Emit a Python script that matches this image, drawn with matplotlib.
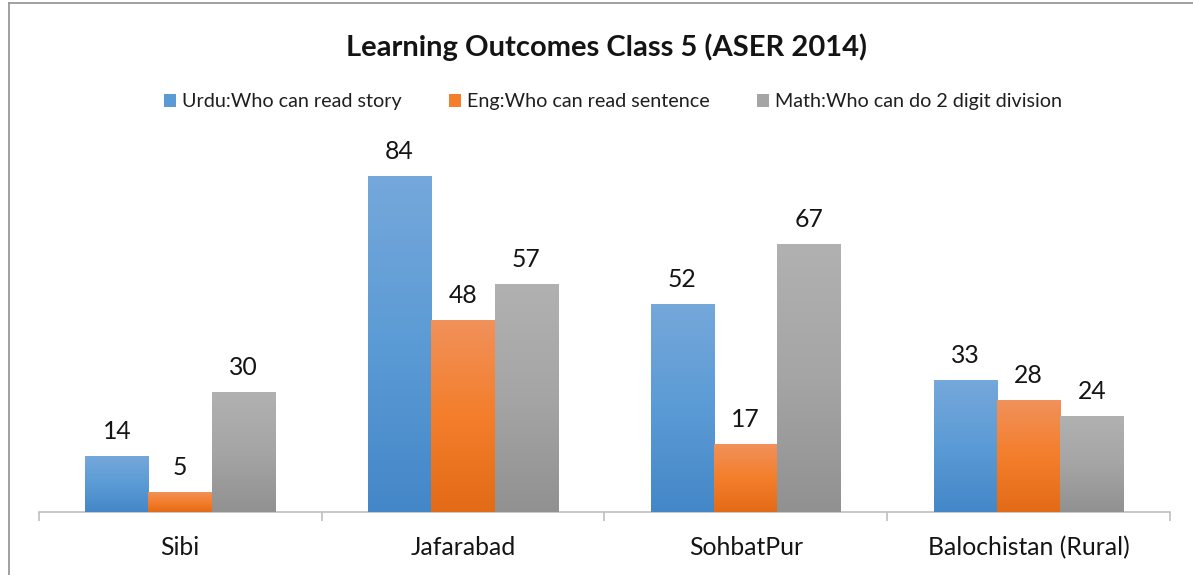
import numpy as np
import matplotlib
matplotlib.use('Agg')
import matplotlib.pyplot as plt
from matplotlib.patches import Patch
from matplotlib.lines import Line2D
from matplotlib.colors import LinearSegmentedColormap

plt.rcParams['font.family'] = ['Lato', 'DejaVu Sans']

# data
districts = ['Sibi', 'Jafarabad', 'SohbatPur', 'Balochistan (Rural)']
urdu = [14, 84, 52, 33]
eng = [5, 48, 17, 28]
math = [30, 57, 67, 24]
series_names = ['Urdu:Who can read story', 'Eng:Who can read sentence',
                'Math:Who can do 2 digit division']

# top, middle, bottom colours of the excel style gradient
grads = [['#75A8DB', '#5B9BD5', '#4487C8'],
         ['#F1915B', '#F47E2B', '#E36B17'],
         ['#B1B1B1', '#A5A5A5', '#919191']]

W, H = 1193, 575
fig = plt.figure(figsize=(W / 100, H / 100), dpi=100)
ax = fig.add_axes([38.7 / W, 63 / H, (1170 - 38.7) / W, 360 / H])

x = np.arange(len(districts))
bw = 0.224
values = [urdu, eng, math]

for k, vals in enumerate(values):
    bars = ax.bar(x + (k - 1) * bw, vals, bw, color=grads[k][1], zorder=2)
    cmap = LinearSegmentedColormap.from_list('g%d' % k, grads[k][::-1])
    grad = np.linspace(0, 1, 256).reshape(-1, 1)
    for b, v in zip(bars, vals):
        bx, by = b.get_x(), b.get_y()
        ax.imshow(grad, cmap=cmap, origin='lower', aspect='auto', zorder=3,
                  extent=(bx, bx + b.get_width(), by, by + b.get_height()),
                  interpolation='bicubic')
        ax.annotate(str(v), xy=(bx + b.get_width() / 2, v), xytext=(0, 12),
                    textcoords='offset points', ha='center', va='baseline',
                    fontsize=17.8, color='#141414', zorder=4)

ax.set_xlim(-0.5, len(districts) - 0.5)
ax.set_ylim(0, 90)

for s in ['top', 'right', 'left']:
    ax.spines[s].set_visible(False)
ax.spines['bottom'].set_color('#BFBFBF')
ax.spines['bottom'].set_linewidth(1.2)
ax.set_yticks([])
ax.set_xticks(x)
ax.set_xticklabels([])
ax.tick_params(axis='x', which='major', length=0)
ax.set_xticks(np.arange(len(districts) + 1) - 0.5, minor=True)
ax.tick_params(axis='x', which='minor', length=6.5, width=1.2, color='#BFBFBF', direction='out')

for i, d in enumerate(districts):
    ax.annotate(d, xy=(i, 0), xycoords=('data', 'axes fraction'), xytext=(0, -31.3),
                textcoords='offset points', ha='center', va='baseline',
                fontsize=17.8, color='#141414')

fig.text(607 / W, 1 - 56 / H, 'Learning Outcomes Class 5 (ASER 2014)', ha='center',
         va='baseline', fontsize=21, fontweight='bold', color='#141414')

handles = [Patch(facecolor=g[1], edgecolor='none') for g in grads]
fig.legend(handles, series_names, loc='center', bbox_to_anchor=(613 / W, 1 - 102 / H),
           ncol=3, frameon=False, fontsize=14.2, handlelength=0.6, handleheight=0.6,
           handletextpad=0.3, columnspacing=2.4, labelcolor='#1f1f1f')

# chart border
fig.add_artist(Line2D([9 / W, 9 / W], [0, 1 - 3 / H], color='#9A9A9A', lw=1.3))
fig.add_artist(Line2D([9 / W, 1], [1 - 3 / H, 1 - 3 / H], color='#9A9A9A', lw=1.3))

fig.savefig('out.png', dpi=100)
